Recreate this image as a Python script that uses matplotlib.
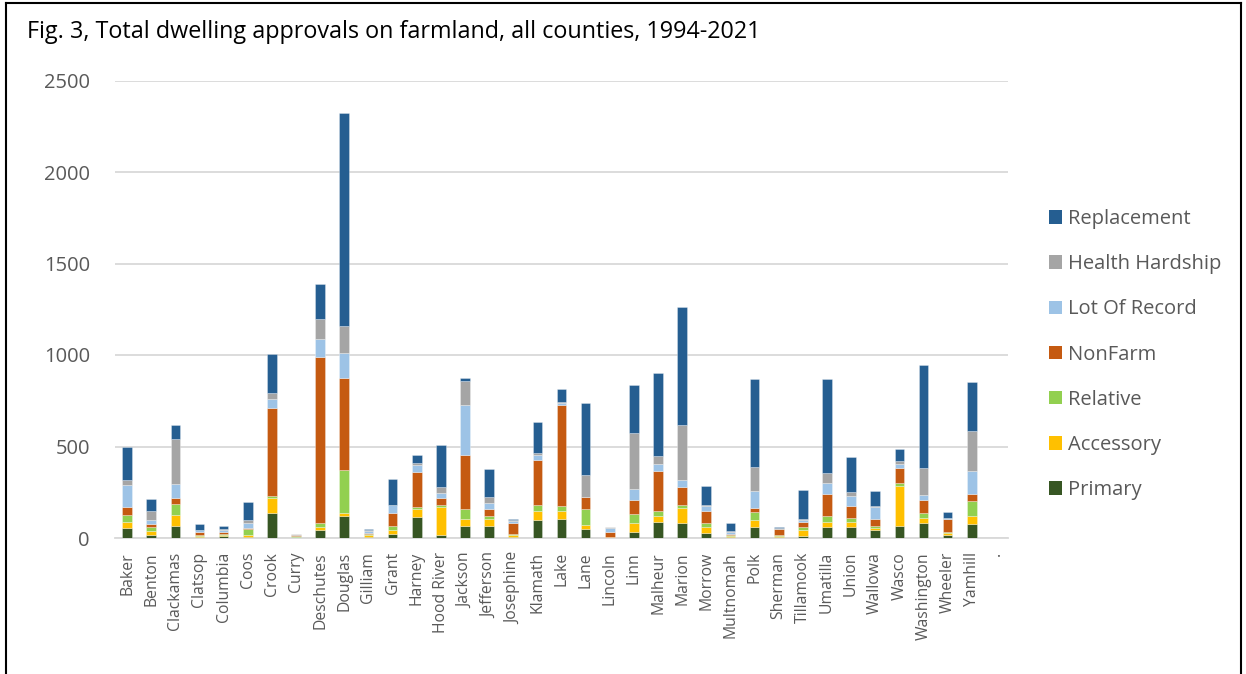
import matplotlib
matplotlib.use("Agg")
import matplotlib.pyplot as plt
import numpy as np
from matplotlib.lines import Line2D
from matplotlib.patches import Patch

counties = ["Baker", "Benton", "Clackamas", "Clatsop", "Columbia", "Coos", "Crook", "Curry",
            "Deschutes", "Douglas", "Gilliam", "Grant", "Harney", "Hood River", "Jackson",
            "Jefferson", "Josephine", "Klamath", "Lake", "Lane", "Lincoln", "Linn", "Malheur",
            "Marion", "Morrow", "Multnomah", "Polk", "Sherman", "Tillamook", "Umatilla", "Union",
            "Wallowa", "Wasco", "Washington", "Wheeler", "Yamhill", "."]

primary     = [55, 15, 68, 5, 11, 5, 139, 4, 45, 119, 5, 23, 115, 18, 68, 68, 4, 101, 102, 47, 2, 31, 90, 82, 27, 5, 60, 5, 13, 60, 60, 46, 64, 82, 15, 75, 0]
accessory   = [35, 22, 57, 6, 7, 10, 79, 4, 15, 18, 9, 22, 41, 152, 35, 38, 14, 46, 43, 26, 1, 50, 31, 81, 33, 8, 37, 8, 29, 28, 28, 11, 220, 26, 11, 46, 0]
relative    = [35, 23, 62, 4, 6, 33, 11, 3, 21, 233, 6, 20, 14, 10, 58, 15, 4, 36, 28, 87, 1, 49, 27, 18, 21, 5, 46, 5, 17, 33, 20, 11, 16, 29, 5, 81, 0]
nonfarm     = [44, 15, 31, 18, 9, 7, 480, 6, 910, 504, 9, 69, 193, 36, 295, 38, 60, 242, 556, 62, 28, 75, 218, 96, 67, 6, 20, 30, 29, 117, 66, 35, 85, 72, 73, 40, 0]
lot_record  = [120, 22, 77, 9, 9, 27, 53, 1, 94, 137, 9, 45, 36, 29, 272, 33, 10, 29, 11, 3, 20, 64, 41, 40, 26, 7, 95, 3, 9, 61, 55, 66, 18, 25, 4, 126, 0]
health      = [26, 51, 247, 4, 9, 19, 32, 2, 110, 150, 4, 3, 10, 35, 132, 33, 5, 11, 5, 120, 6, 304, 42, 302, 4, 6, 132, 4, 6, 58, 22, 5, 17, 147, 4, 215, 0]
replacement = [182, 64, 75, 33, 17, 97, 210, 0, 195, 1160, 9, 143, 47, 227, 17, 152, 6, 169, 68, 395, 2, 265, 455, 641, 106, 44, 480, 7, 157, 513, 189, 82, 65, 564, 31, 272, 0]

series = [
    ("Primary", primary, "#375623"),
    ("Accessory", accessory, "#FFC000"),
    ("Relative", relative, "#92D050"),
    ("NonFarm", nonfarm, "#C55A11"),
    ("Lot Of Record", lot_record, "#9DC3E6"),
    ("Health Hardship", health, "#A5A5A5"),
    ("Replacement", replacement, "#255E91"),
]

yticks = [0, 500, 1000, 1500, 2000, 2500]

plt.rcParams['font.family'] = ['Open Sans', 'DejaVu Sans']

W, H = 1246, 674
fig = plt.figure(figsize=(W / 100, H / 100), dpi=100)
ax = fig.add_axes([115 / W, 1 - 538 / H, (1008 - 115) / W, (538 - 80.5) / H])

x = np.arange(len(counties))
bottom = np.zeros(len(counties))
handles = []
for name, vals, col in series:
    v = np.array(vals, dtype=float)
    ax.bar(x, v, 0.40, bottom=bottom, color=col, edgecolor=(1, 1, 1, 0.35), linewidth=0.6,
           zorder=3, label=name)
    bottom += v
    handles.append((name, col))

ax.set_xlim(-0.5, len(counties) - 0.5)
ax.set_ylim(0, 2500)
ax.set_yticks(yticks)
ax.set_yticklabels([str(t) for t in yticks])
ax.set_xticks(x)
ax.set_xticklabels(counties, rotation=90)
ax.yaxis.grid(True, color="#D9D9D9", linewidth=1.3, zorder=0)
ax.set_axisbelow(True)
for s in ["left", "right", "top"]:
    ax.spines[s].set_visible(False)
ax.spines["bottom"].set_color("#D9D9D9")
ax.spines["bottom"].set_linewidth(1.3)
ax.tick_params(axis="both", length=0, colors="#595959")
ax.tick_params(axis="y", labelsize=14.5, pad=18)
ax.tick_params(axis="x", labelsize=11.3, pad=10)

leg_handles = [Patch(facecolor=c, edgecolor="none") for n, c in reversed(handles)]
leg_labels = [n for n, c in reversed(handles)]
leg = fig.legend(leg_handles, leg_labels, loc="upper left",
                 bbox_to_anchor=(1049 / W, 1 - 209 / H), frameon=False,
                 fontsize=14.5, labelspacing=1.25, handlelength=0.65, handleheight=0.65,
                 handletextpad=0.3, borderpad=0, borderaxespad=0)
for t in leg.get_texts():
    t.set_color("#595959")

fig.text(27 / W, 1 - 32 / H, "Fig. 3, Total dwelling approvals on farmland, all counties, 1994-2021",
         fontsize=16.8, color="black", va="center", ha="left")

# outer frame
fx0, fx1, fy1 = 6 / W, 1241 / W, 1 - 3 / H
fig.add_artist(Line2D([fx0, fx0], [0, fy1], transform=fig.transFigure, color="black", linewidth=1.5))
fig.add_artist(Line2D([fx0, fx1], [fy1, fy1], transform=fig.transFigure, color="black", linewidth=1.5))
fig.add_artist(Line2D([fx1, fx1], [0, fy1], transform=fig.transFigure, color="black", linewidth=1.5))

fig.savefig("out.png", dpi=100)
